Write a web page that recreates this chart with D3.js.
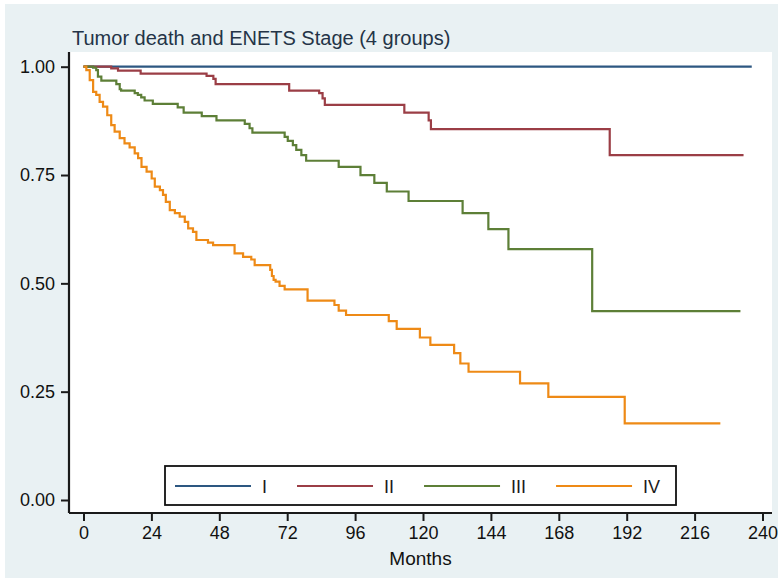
<!DOCTYPE html>
<html>
<head>
<meta charset="utf-8">
<script src="https://cdn.jsdelivr.net/npm/d3@7"></script>
<style>
  html, body { margin: 0; padding: 0; background: #fff; }
  svg { display: block; font-family: "Liberation Sans", Arial, sans-serif; }
</style>
</head>
<body>
<svg id="chart" width="778" height="578"></svg>
<script>
// Kaplan-Meier survival by ENETS stage: [month, survival from that month on]
const stageI = [[0, 1]];
const stageII = [[0,1],[9.8,0.996],[12.2,0.991],[20.2,0.984],[43.5,0.979],[45.9,0.972],[46.7,0.960],
  [72.7,0.945],[83.3,0.939],[84.5,0.927],[85.3,0.912],[113.4,0.894],[122.0,0.876],[122.8,0.856],[186.0,0.796]];
const stageIII = [[0,1],[3.4,0.998],[4.5,0.992],[5.1,0.977],[6.3,0.968],[11.6,0.960],[12.8,0.948],[13.3,0.945],
  [18.1,0.939],[19.2,0.935],[20.4,0.929],[21.6,0.922],[24.5,0.914],[33.3,0.906],[35.4,0.894],[41.8,0.886],
  [47.0,0.876],[57.0,0.868],[58.7,0.858],[59.7,0.848],[71.1,0.838],[72.2,0.829],[74.0,0.819],[75.2,0.808],
  [77.0,0.796],[78.7,0.783],[90.2,0.769],[97.9,0.750],[102.8,0.732],[107.2,0.712],[114.9,0.690],[134.0,0.662],
  [143.1,0.625],[150.2,0.579],[179.8,0.436]];
const stageIV = [[0,1],[1.0,0.992],[2.2,0.969],[3.4,0.942],[4.5,0.935],[5.7,0.919],[6.9,0.908],[8.4,0.888],
  [9.8,0.865],[11.0,0.850],[12.8,0.835],[14.5,0.823],[16.3,0.814],[18.1,0.800],[19.3,0.789],[20.5,0.769],
  [22.3,0.758],[24.1,0.742],[25.2,0.723],[27.0,0.715],[28.1,0.704],[29.1,0.688],[30.5,0.669],[32.3,0.662],
  [34.0,0.654],[35.8,0.642],[37.0,0.627],[38.7,0.619],[39.9,0.600],[44.0,0.594],[45.8,0.588],[53.4,0.569],
  [56.4,0.561],[59.3,0.555],[60.5,0.542],[66.0,0.531],[66.6,0.517],[67.2,0.508],[67.9,0.504],[69.3,0.494],
  [71.1,0.486],[79.2,0.460],[88.7,0.450],[90.2,0.437],[92.8,0.427],[107.9,0.413],[110.7,0.395],[118.9,0.375],
  [122.6,0.358],[131.0,0.339],[133.2,0.315],[136.1,0.296],[154.3,0.269],[164.3,0.238],[191.3,0.177]];

// last follow-up month of each group
const lastFollowUp = [236.2, 233.3, 232.2, 225.1];
const stageNames = ["I", "II", "III", "IV"];
const stageColors = ["#2d5781", "#9b3e46", "#5d7f37", "#ee8a16"];

const xTicks = [0, 24, 48, 72, 96, 120, 144, 168, 192, 216, 240];
const yTicks = [0, 0.25, 0.5, 0.75, 1];
const titleText = "Tumor death and ENETS Stage (4 groups)";
const xTitle = "Months";

const svg = d3.select("#chart");
const W = 778, H = 578;

// page and plot backgrounds
svg.append("rect").attr("width", W).attr("height", H).attr("fill", "#ffffff");
svg.append("rect").attr("x", 5).attr("y", 4).attr("width", W - 5).attr("height", H - 4).attr("fill", "#e9f1f3");

const plot = { left: 69, right: 772, top: 52, bottom: 513 };
svg.append("rect")
  .attr("x", plot.left).attr("y", plot.top)
  .attr("width", plot.right - plot.left).attr("height", plot.bottom - plot.top)
  .attr("fill", "#ffffff");

const x = d3.scaleLinear().domain([0, 240]).range([83.5, 762.5]);
const y = d3.scaleLinear().domain([0, 1]).range([500, 66.7]);

// curves
const line = d3.line().x(d => x(d[0])).y(d => y(d[1])).curve(d3.curveStepAfter);
const series = [stageI, stageII, stageIII, stageIV];
series.forEach((s, i) => {
  const pts = s.concat([[lastFollowUp[i], s[s.length - 1][1]]]);
  svg.append("path")
    .attr("d", line(pts))
    .attr("fill", "none")
    .attr("stroke", stageColors[i])
    .attr("stroke-width", 2.2)
    .attr("stroke-linejoin", "miter");
});

// y axis
const yAxis = svg.append("g").attr("transform", `translate(${plot.left},0)`)
  .call(d3.axisLeft(y).tickValues(yTicks).tickFormat(d3.format(".2f")).tickSize(8).tickPadding(6));
yAxis.select(".domain").attr("d", `M0,${plot.top}V${plot.bottom}`);

// x axis
const xAxis = svg.append("g").attr("transform", `translate(0,${plot.bottom})`)
  .call(d3.axisBottom(x).tickValues(xTicks).tickFormat(d3.format("d")).tickSize(8).tickPadding(5));
xAxis.select(".domain").attr("d", `M${plot.left},0H${plot.right}`);

[yAxis, xAxis].forEach(a => {
  a.select(".domain").attr("stroke", "#1a1a1a").attr("stroke-width", 2.2);
  a.selectAll(".tick line").attr("stroke", "#1a1a1a").attr("stroke-width", 2);
  a.selectAll(".tick text").attr("fill", "#111").style("font-size", "18px")
    .style("font-family", '"Liberation Sans", Arial, sans-serif');
});

// titles
svg.append("text").attr("x", 72).attr("y", 45)
  .attr("fill", "#243447").style("font-size", "20px").text(titleText);
svg.append("text").attr("x", (plot.left + plot.right) / 2).attr("y", 565)
  .attr("text-anchor", "middle").attr("fill", "#111").style("font-size", "19px").text(xTitle);

// legend
const lg = svg.append("g");
lg.append("rect").attr("x", 165).attr("y", 466).attr("width", 511).attr("height", 39)
  .attr("fill", "#ffffff").attr("stroke", "#111").attr("stroke-width", 1.8);
let lx = 175;
stageNames.forEach((name, i) => {
  lg.append("line").attr("x1", lx).attr("x2", lx + 76).attr("y1", 486).attr("y2", 486)
    .attr("stroke", stageColors[i]).attr("stroke-width", 2.2);
  const t = lg.append("text").attr("x", lx + 87).attr("y", 492.5)
    .attr("fill", "#1a1a1a").style("font-size", "18px").text(name);
  lx += 87 + t.node().getComputedTextLength() + 30;
});
</script>
</body>
</html>
